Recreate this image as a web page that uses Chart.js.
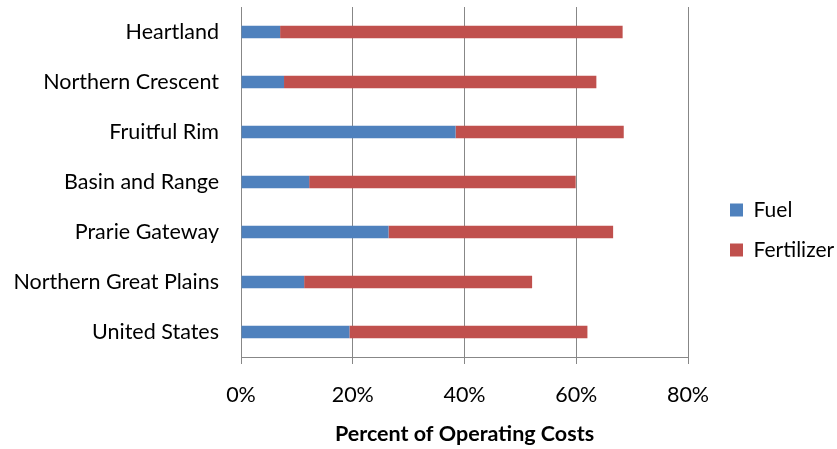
<!DOCTYPE html>
<html>
<head>
<meta charset="utf-8">
<script src="https://cdn.jsdelivr.net/npm/chart.js@4"></script>
<style>
html,body{margin:0;padding:0;background:#fff;}
#wrap{width:837px;height:449px;}
</style>
</head>
<body>
<div id="wrap"><canvas id="c" width="837" height="449"></canvas></div>
<script>
const categories = ["Heartland","Northern Crescent","Fruitful Rim","Basin and Range","Prarie Gateway","Northern Great Plains","United States"];
const fuel = [7.0, 7.7, 38.4, 12.2, 26.4, 11.3, 19.4];
const fertilizer = [61.3, 55.9, 30.1, 47.7, 40.2, 40.8, 42.6];
const xTicks = [0, 20, 40, 60, 80];

const FONT = "Lato, 'Open Sans', sans-serif";
const FS = 21.5;
const GRID = '#878787';

const legendPlace = {
  id: 'legendPlace',
  afterInit(chart) {
    const lg = chart.legend;
    const orig = lg.fit.bind(lg);
    lg.fit = function() { orig(); this.width = 149; };
  },
  afterLayout(chart) {
    const lg = chart.legend;
    lg.left = 711; lg.right = 837;
    lg.top += 2; lg.bottom += 2;
  }
};

const chart = new Chart(document.getElementById('c'), {
  type: 'bar',
  data: {
    labels: categories,
    datasets: [
      {label: 'Fuel', data: fuel, backgroundColor: '#4F81BD', borderWidth: 0},
      {label: 'Fertilizer', data: fertilizer, backgroundColor: '#C0504D', borderWidth: 0}
    ]
  },
  plugins: [legendPlace],
  options: {
    indexAxis: 'y',
    responsive: false,
    animation: false,
    devicePixelRatio: 1,
    layout: {autoPadding: false, padding: {top: 7, left: 0, right: 0, bottom: 0}},
    datasets: {bar: {categoryPercentage: 1.0, barPercentage: 0.25}},
    scales: {
      x: {
        stacked: true,
        min: 0, max: 80,
        afterBuildTicks: s => { s.ticks = xTicks.map(v => ({value: v})); },
        afterFit: s => { s.height = 92; },
        ticks: {
          callback: v => v + '%',
          color: '#000',
          font: {family: FONT, size: FS},
          padding: 18
        },
        grid: {color: GRID, lineWidth: 1, tickLength: 7, drawTicks: true},
        border: {display: true, color: GRID, width: 1},
        title: {
          display: true,
          text: 'Percent of Operating Costs',
          color: '#000',
          font: {family: FONT, size: FS, weight: 'bold'},
          padding: {top: 0, bottom: 2}
        }
      },
      y: {
        stacked: true,
        afterFit: s => { s.width = 241; s.paddingTop = 0; s.paddingBottom = 0; },
        ticks: {
          color: '#000',
          font: {family: FONT, size: FS},
          padding: 22
        },
        grid: {display: false, drawTicks: false},
        border: {display: true, color: GRID, width: 1}
      }
    },
    plugins: {
      legend: {
        position: 'right',
        align: 'center',
        labels: {
          color: '#000',
          font: {family: FONT, size: 21},
          boxWidth: 13,
          boxHeight: 13,
          padding: 19
        }
      },
      tooltip: {enabled: false}
    }
  }
});
</script>
</body>
</html>
